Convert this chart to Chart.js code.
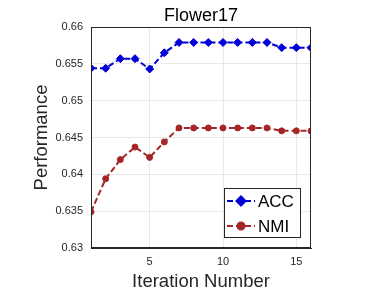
<!DOCTYPE html>
<html>
<head>
<meta charset="utf-8">
<script src="https://cdn.jsdelivr.net/npm/chart.js@4/dist/chart.umd.min.js"></script>
<style>
  html, body { margin: 0; padding: 0; background: #fff; }
  #wrap { width: 390px; height: 293px; }
</style>
</head>
<body>
<div id="wrap"><canvas id="lineCanvas" width="390" height="293"></canvas></div>
<script>
// data
var iterations = [1, 2, 3, 4, 5, 6, 7, 8, 9, 10, 11, 12, 13, 14, 15, 16];
var accValues = [0.6544, 0.6544, 0.6557, 0.6557, 0.6543, 0.6565, 0.6579, 0.6579, 0.6579, 0.6579, 0.6579, 0.6579, 0.6579, 0.6572, 0.6572, 0.6572];
var nmiValues = [0.6349, 0.6394, 0.6420, 0.6437, 0.6423, 0.6444, 0.6463, 0.6463, 0.6463, 0.6463, 0.6463, 0.6463, 0.6463, 0.6459, 0.6459, 0.6459];
var xTicks = [5, 10, 15];
var yTicks = [0.63, 0.635, 0.64, 0.645, 0.65, 0.655, 0.66];
var chartTitle = "Flower17";

var axisColor = "#262626";
var accColor = "rgb(0,0,215)";
var nmiColor = "rgb(165,38,38)";
var fontFam = "'Liberation Sans', Arial, sans-serif";

function toPoints(vals) {
  return vals.map(function(v, i) { return { x: iterations[i], y: v }; });
}

// title over the plot, box round the axes, legend inside the plot
var boxLegend = {
  id: "boxLegend",
  afterDraw: function(chart) {
    var ctx = chart.ctx;
    var a = chart.chartArea;
    ctx.save();
    ctx.fillStyle = "#000";
    ctx.font = "18px " + fontFam;
    ctx.textAlign = "center";
    ctx.textBaseline = "middle";
    ctx.fillText(chartTitle, (a.left + a.right) / 2, 16);

    ctx.strokeStyle = axisColor;
    ctx.lineWidth = 1;
    ctx.strokeRect(a.left + 0.5, a.top + 0.5, a.right - a.left - 1, a.bottom - a.top - 1);

    var bx = 224, by = 188, bw = 76, bh = 49;
    ctx.fillStyle = "#fff";
    ctx.fillRect(bx, by, bw, bh);
    ctx.strokeStyle = axisColor;
    ctx.strokeRect(bx + 0.5, by + 0.5, bw, bh);

    chart.data.datasets.forEach(function(ds, i) {
      var y = by + 13 + i * 25;
      ctx.strokeStyle = ds.borderColor;
      ctx.lineWidth = 2;
      ctx.setLineDash([6, 3]);
      ctx.beginPath();
      ctx.moveTo(bx + 3, y);
      ctx.lineTo(bx + 31, y);
      ctx.stroke();
      ctx.setLineDash([]);
      ctx.fillStyle = ds.pointBackgroundColor;
      Chart.helpers.drawPoint(ctx, {
        pointStyle: ds.pointStyle, radius: ds.pointRadius + 0.5, borderWidth: 1
      }, bx + 17, y);
      ctx.fillStyle = "#000";
      ctx.font = "17px " + fontFam;
      ctx.textAlign = "left";
      ctx.fillText(ds.label, bx + 34, y + 1);
    });
    ctx.restore();
  }
};

var lineChart = new Chart(document.getElementById("lineCanvas").getContext("2d"), {
  type: "line",
  data: {
    datasets: [
      {
        label: "ACC",
        data: toPoints(accValues),
        borderColor: accColor,
        backgroundColor: accColor,
        pointBackgroundColor: accColor,
        pointBorderColor: accColor,
        pointStyle: "rectRot",
        pointRadius: 4,
        pointBorderWidth: 1,
        borderWidth: 2,
        borderDash: [6, 3],
        fill: false,
        tension: 0
      },
      {
        label: "NMI",
        data: toPoints(nmiValues),
        borderColor: nmiColor,
        backgroundColor: nmiColor,
        pointBackgroundColor: nmiColor,
        pointBorderColor: nmiColor,
        pointStyle: "circle",
        pointRadius: 3,
        pointBorderWidth: 1,
        borderWidth: 2,
        borderDash: [6, 3],
        fill: false,
        tension: 0
      }
    ]
  },
  options: {
    responsive: false,
    animation: false,
    layout: { padding: { left: 31, right: 79, top: 27, bottom: 0 } },
    plugins: {
      legend: { display: false },
      tooltip: { enabled: false },
      title: { display: false }
    },
    scales: {
      x: {
        type: "linear",
        min: 1,
        max: 16,
        afterBuildTicks: function(scale) {
          scale.ticks = xTicks.map(function(v) { return { value: v }; });
        },
        afterFit: function(scale) { scale.height = 45; },
        grid: { color: "#e8e8e8", drawTicks: false },
        border: { color: axisColor },
        ticks: {
          color: axisColor,
          padding: 7,
          font: { family: fontFam, size: 11 }
        },
        title: {
          display: true,
          text: "Iteration Number",
          color: "#262626",
          padding: { top: 0, bottom: 0 },
          font: { family: fontFam, size: 18.5 }
        }
      },
      y: {
        min: 0.63,
        max: 0.66,
        afterBuildTicks: function(scale) {
          scale.ticks = yTicks.map(function(v) { return { value: v }; });
        },
        afterFit: function(scale) { scale.width = 60; },
        grid: { color: "#e8e8e8", drawTicks: false },
        border: { color: axisColor },
        ticks: {
          color: axisColor,
          padding: 8,
          font: { family: fontFam, size: 11 },
          callback: function(v) { return String(+v.toFixed(3)); }
        },
        title: {
          display: true,
          text: "Performance",
          color: "#262626",
          padding: { top: 0, bottom: 0 },
          font: { family: fontFam, size: 18.5 }
        }
      }
    }
  },
  plugins: [boxLegend]
});
</script>
</body>
</html>
